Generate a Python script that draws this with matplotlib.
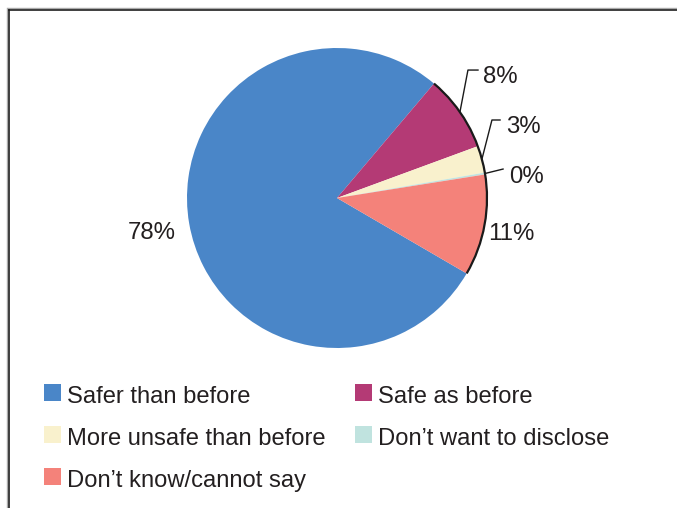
import numpy as np
import matplotlib
matplotlib.use("Agg")
import matplotlib.pyplot as plt
from matplotlib.patches import Arc, Rectangle
from matplotlib.lines import Line2D

plt.rcParams['font.family'] = ['Liberation Sans', 'DejaVu Sans']

# survey answers (share of respondents, %)
categories = ["Safer than before", "Safe as before", "More unsafe than before",
              "Don\u2019t want to disclose", "Don\u2019t know/cannot say"]
shares = [77.8, 8.2, 2.9, 0.2, 10.9]
colors = ["#4a86c8", "#b43a75", "#f9f1cd", "#c0e3df", "#f4827a"]
txt = "#231f20"

W, H = 677, 508
fig = plt.figure(figsize=(W / 100, H / 100), dpi=100)

# pie centred at (337, 198) px, radius 150 px
cx, cy, r = 337, 198, 150
ax = fig.add_axes([(cx - r) / W, (H - cy - r) / H, 2 * r / W, 2 * r / H])
start = -30.2
wedges, _ = ax.pie(shares, colors=colors, startangle=start, counterclock=False,
                   radius=1, wedgeprops=dict(linewidth=0))
ax.set_xlim(-1, 1)
ax.set_ylim(-1, 1)
ax.set_aspect('equal')
ax.axis('off')

# dark rim along the right-hand slices
ax.add_patch(Arc((0, 0), 2, 2, theta1=wedges[-1].theta1, theta2=wedges[1].theta2,
                 color="#1a1a1a", lw=1.6, clip_on=False, zorder=5))

def pct(v):
    return f"{round(v):.0f}%"

def mid(w):
    return np.deg2rad((w.theta1 + w.theta2) / 2)

fs = 17.3

# big slices: plain labels
for i, (x, y) in [(0, (-1.233, -0.273)), (4, (1.16, -0.28))]:
    ax.text(x, y, pct(shares[i]), ha='center', va='baseline',
            fontsize=fs, color=txt, clip_on=False)

# small slices: labels with leader lines (elbow, end, text position)
leaders = {1: [(0.873, 0.853), (0.94, 0.853), (0.973, 0.767)],
           2: [(1.033, 0.52), (1.087, 0.52), (1.127, 0.433)],
           3: [(1.107, 0.193), (1.107, 0.193), (1.147, 0.10)]}
for i, (elb, end, tp) in leaders.items():
    a = mid(wedges[i])
    x0, y0 = np.cos(a), np.sin(a)
    ax.plot([x0, elb[0], end[0]], [y0, elb[1], end[1]], color="#1a1a1a", lw=1.0,
            clip_on=False, zorder=6)
    ax.text(tp[0], tp[1], pct(shares[i]), ha='left', va='baseline', fontsize=fs,
            color=txt, clip_on=False)

# legend, two columns
slots = [(44, 392), (355, 392), (44, 434), (355, 434), (44, 476)]
for (lx, ly), name, c in zip(slots, categories, colors):
    fig.add_artist(Rectangle((lx / W, (H - ly - 8.5) / H), 17 / W, 17 / H,
                             transform=fig.transFigure, facecolor=c, edgecolor='none'))
    fig.text((lx + 23) / W, (H - ly - 11) / H, name, ha='left', va='baseline',
             fontsize=17.1, color=txt)

# frame on top and left
fig.add_artist(Line2D([8 / W, 1], [1 - 8 / H, 1 - 8 / H], color="#aaaaaa", lw=1.0))
fig.add_artist(Line2D([7 / W, 7 / W], [0, 1 - 8 / H], color="#aaaaaa", lw=1.0))
fig.add_artist(Line2D([9 / W, 1], [1 - 9.5 / H, 1 - 9.5 / H], color="#1e1e1e", lw=1.2))
fig.add_artist(Line2D([8.5 / W, 8.5 / W], [0, 1 - 9.5 / H], color="#1e1e1e", lw=1.2))

fig.savefig("out.png", dpi=100)
